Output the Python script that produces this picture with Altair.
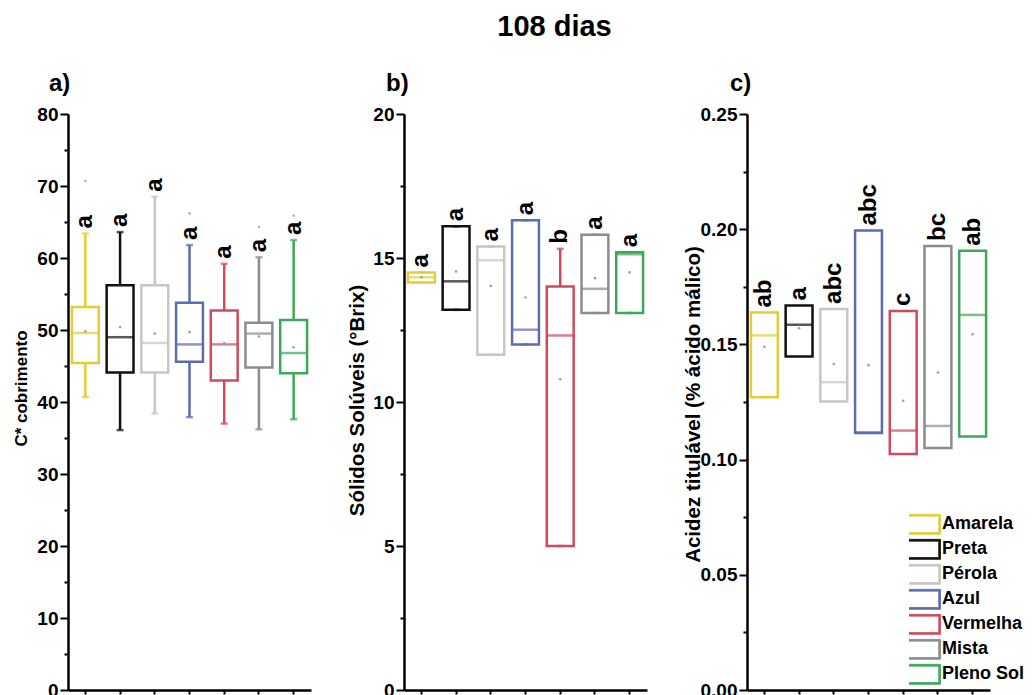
import altair as alt
import pandas as pd

FONT = "Liberation Sans"

cats = ["Amarela", "Preta", "Pérola", "Azul", "Vermelha", "Mista", "Pleno Sol"]
colors = ["#E3CC3A", "#111111", "#C6C6C6", "#5B6DAE", "#CF4A5E", "#8C8C8C", "#3FA75A"]

# a) C* cobrimento
a_low = [40.7, 36.1, 38.4, 37.9, 37.0, 36.2, 37.6]
a_q1 = [45.4, 44.1, 44.1, 45.6, 43.0, 44.8, 44.0]
a_med = [49.6, 49.0, 48.2, 48.0, 48.0, 49.5, 46.8]
a_q3 = [53.2, 56.2, 56.2, 53.8, 52.7, 51.0, 51.4]
a_high = [63.4, 63.6, 68.5, 61.8, 59.2, 60.1, 62.5]
a_mean = [49.8, 50.4, 49.5, 49.7, 48.2, 49.1, 47.6]
a_letters = ["a", "a", "a", "a", "a", "a", "a"]
a_out_cat = ["Amarela", "Azul", "Mista", "Pleno Sol"]
a_out_val = [70.7, 66.2, 64.3, 65.9]

# b) Sólidos Solúveis (°Brix)
b_low = [14.15, 13.2, 11.64, 12.0, 5.0, 13.09, 13.09]
b_q1 = [14.15, 13.2, 11.64, 12.0, 5.0, 13.09, 13.09]
b_med = [14.33, 14.19, 14.92, 12.51, 12.31, 13.93, 15.13]
b_q3 = [14.5, 16.1, 15.4, 16.31, 14.01, 15.81, 15.2]
b_high = [14.5, 16.1, 15.4, 16.31, 15.32, 15.81, 15.2]
b_mean = [14.33, 14.53, 14.03, 13.63, 10.79, 14.3, 14.5]
b_letters = ["a", "a", "a", "a", "b", "a", "a"]

# c) Acidez titulável (% ácido málico)
c_q1 = [0.1271, 0.1448, 0.1252, 0.1115, 0.1024, 0.1050, 0.1100]
c_med = [0.1539, 0.1585, 0.1336, 0.1118, 0.1126, 0.1146, 0.1628]
c_q3 = [0.1638, 0.1669, 0.1654, 0.1994, 0.1645, 0.1927, 0.1906]
c_mean = [0.1490, 0.1570, 0.1415, 0.1410, 0.1255, 0.1378, 0.1544]
c_letters = ["ab", "a", "abc", "abc", "c", "bc", "ab"]

PW, PH = 243, 576


def xenc():
    return alt.X(
        "cat:N",
        scale=alt.Scale(domain=cats, paddingInner=0.1, paddingOuter=0.05),
        axis=alt.Axis(title=None, labels=False, ticks=True, tickSize=4, tickWidth=2,
                      tickColor="black", domainColor="black", domainWidth=2.5, grid=False),
    )


def yenc(field, ymax, step, fmt, title, title_size, title_x, title_y):
    n = int(round(ymax / step))
    vals = [round(i * step, 4) for i in range(n + 1)]
    return alt.Y(
        f"{field}:Q",
        scale=alt.Scale(domain=[0, ymax], nice=False, zero=True),
        axis=alt.Axis(
            title=title, values=vals, format=fmt,
            labelExpr=f"(round(datum.value/{step}) % 2 == 0) ? datum.label : ''",
            tickSize={"condition": {"test": f"round(datum.value/{step}) % 2 == 1", "value": 4}, "value": 8},
            tickWidth=2, tickColor="black", domainColor="black", domainWidth=2.5,
            labelFontSize=19, labelFont=FONT, labelFontWeight="bold", labelColor="black",
            labelPadding=2, grid=False,
            titleFontSize=title_size, titleFont=FONT, titleFontWeight="bold", titleColor="black",
            titleX=title_x, titleY=title_y,
        ),
    )


def col(channel_cls, field="cat", legend=None):
    return channel_cls(f"{field}:N", scale=alt.Scale(domain=cats, range=colors), legend=legend)


def panel(df, out_df, ymax, step, fmt, ytitle, title_size, title_x, title_y, label, label_dx,
          whiskers, top_field, legend=None):
    y = lambda f: yenc(f, ymax, step, fmt, ytitle, title_size, title_x, title_y)
    base = alt.Chart(df)
    layers = []
    if whiskers:
        layers.append(base.mark_rule(strokeWidth=2.5).encode(x=xenc(), y=y("low"), y2="q1", color=col(alt.Color)))
        layers.append(base.mark_rule(strokeWidth=2.5).encode(x=xenc(), y=y("q3"), y2="high", color=col(alt.Color)))
        layers.append(base.mark_tick(size=7, thickness=2.5).encode(x=xenc(), y=y("low"), color=col(alt.Color)))
        layers.append(base.mark_tick(size=7, thickness=2.5).encode(x=xenc(), y=y("high"), color=col(alt.Color)))
    # boxes: the legend (panel c) is carried by a separate field so it is not merged
    layers.append(
        base.mark_bar(filled=False, strokeWidth=2.5, width=alt.RelativeBandSize(0.86)).encode(
            x=xenc(), y=y("q1"), y2="q3", stroke=col(alt.Stroke, "grupo", legend),
        )
    )
    layers.append(base.mark_tick(size=27, thickness=2.5).encode(x=xenc(), y=y("med"), color=col(alt.Color)))
    layers.append(base.mark_circle(size=7, color="#a0a0a0", opacity=1).encode(x=xenc(), y=y("mean")))
    if out_df is not None:
        layers.append(alt.Chart(out_df).mark_circle(size=7, color="#b0b0b0", opacity=1).encode(x=xenc(), y=y("val")))
    layers.append(
        base.mark_text(angle=270, align="left", baseline="middle", dx=5, fontSize=24,
                       font=FONT, fontWeight="bold", color="black").encode(
            x=xenc(), y=y(top_field), text="letter:N")
    )
    return alt.layer(*layers).properties(
        width=PW, height=PH,
        title=alt.TitleParams(label, anchor="start", frame="group", fontSize=24, font=FONT,
                              fontWeight="bold", color="black", dx=label_dx, offset=9),
    )


df_a = pd.DataFrame({"cat": cats, "grupo": cats, "low": a_low, "q1": a_q1, "med": a_med, "q3": a_q3,
                     "high": a_high, "mean": a_mean, "letter": a_letters})
out_a = pd.DataFrame({"cat": a_out_cat, "val": a_out_val})
df_b = pd.DataFrame({"cat": cats, "grupo": cats, "low": b_low, "q1": b_q1, "med": b_med, "q3": b_q3,
                     "high": b_high, "mean": b_mean, "letter": b_letters})
df_c = pd.DataFrame({"cat": cats, "grupo": cats, "q1": c_q1, "med": c_med, "q3": c_q3,
                     "mean": c_mean, "letter": c_letters})

# legend symbol: a rectangular frame (outer rect with an inner hole of opposite winding)
frame_path = "M-2.1,-1H2.1V1H-2.1ZM-1.92,-0.82V0.82H1.92V-0.82Z"

legend_c = alt.Legend(
    title=None, orient="none", legendX=162, legendY=399,
    symbolType=frame_path, symbolSize=400, symbolStrokeWidth=0.8,
    symbolFillColor="white", symbolOpacity=1, labelFontSize=18, labelFont=FONT,
    labelFontWeight="bold", labelColor="black", labelOffset=12, rowPadding=2, padding=0,
    labelLimit=300, clipHeight=22.7,
)

pa = panel(df_a, out_a, 80, 5, "d", "C* cobrimento", 17, -38, 274, "a)", -19, True, "high")
pb = panel(df_b, None, 20, 2.5, "d", "Sólidos Solúveis (°Brix)", 20.5, -37, 286, "b)", -18, True, "high")
pc = panel(df_c, None, 0.25, 0.025, ".2f", "Acidez titulável (% ácido málico)", 20.5, -44, 290, "c)", -17,
           False, "q3", legend=legend_c)

chart = alt.hconcat(pa, pb, pc, spacing=36).resolve_scale(
    x="independent", y="independent", color="independent", stroke="independent"
).resolve_legend(color="independent", stroke="independent").properties(
    title=alt.TitleParams("108 dias", fontSize=29, font=FONT, fontWeight="bold", color="black",
                          anchor="middle", dx=36, offset=30),
    padding={"left": 12, "top": 13, "right": 0, "bottom": 0},
).configure(font=FONT).configure_view(strokeWidth=0, stroke="transparent")

chart.save("out.html", embed_options={"renderer": "svg", "actions": False})
